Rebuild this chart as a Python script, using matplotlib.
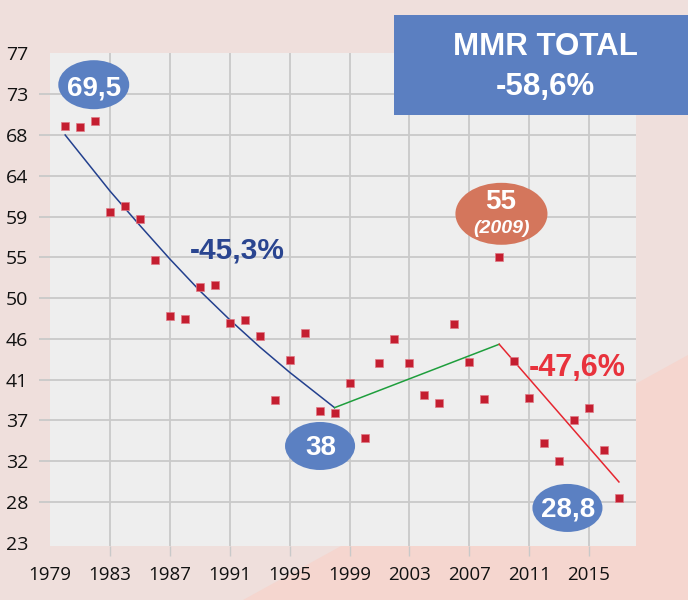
import matplotlib
matplotlib.use("Agg")
import matplotlib.pyplot as plt
from matplotlib.patches import Ellipse, Rectangle, Polygon

# ---- data ----
years = list(range(1980, 2018))
mmr = [69.0, 68.9, 69.5, 59.5, 60.2, 58.7, 54.2, 48.0, 47.7, 51.2,
       51.4, 47.3, 47.6, 45.8, 38.7, 43.2, 46.1, 37.5, 37.3, 40.6,
       34.5, 42.8, 45.5, 42.8, 39.3, 38.4, 47.1, 42.9, 38.9, 54.5,
       43.1, 39.0, 34.0, 32.0, 36.5, 37.9, 33.2, 27.9]

trend1_years = [1980, 1983, 1985, 1987, 1989, 1991, 1993, 1995, 1998]
trend1_vals = [68.0, 61.8, 58.0, 54.3, 50.8, 47.6, 44.6, 41.8, 37.9]
trend2_years = [1998, 2009]
trend2_vals = [37.9, 44.9]
trend3_years = [2009, 2017]
trend3_vals = [44.9, 29.7]

xtick_years = [1979, 1983, 1987, 1991, 1995, 1999, 2003, 2007, 2011, 2015]
ytick_vals = [23 + 4.5 * k for k in range(13)]
ytick_labels = [str(int(v + 0.5)) for v in ytick_vals]

title_line1 = "MMR TOTAL"
title_line2 = "-58,6%"

# ---- figure ----
W, H = 688, 600
fig = plt.figure(figsize=(W / 100, H / 100), dpi=100)
fig.patch.set_facecolor("#EFDFDC")

# lower-right background shade
fig.add_artist(Polygon([(243 / W, 0), (1, 1 - 355 / H), (1, 0)], closed=True,
                       transform=fig.transFigure, facecolor="#F5D6CF",
                       edgecolor="none", zorder=-5))

left_px, right_px, top_px, bot_px = 50.2, 636, 53, 546
ax = fig.add_axes([left_px / W, 1 - bot_px / H, (right_px - left_px) / W,
                   (bot_px - top_px) / H])
ax.set_facecolor("#EEEEEE")
ax.set_xlim(1979, 2018.14)
ax.set_ylim(22.63, 77.05)
for s in ax.spines.values():
    s.set_visible(False)

grid_c = "#C9C9C9"
ax.set_xticks(xtick_years)
ax.set_xticklabels([str(y) for y in xtick_years])
ax.set_yticks(ytick_vals)
ax.set_yticklabels(ytick_labels)
ax.grid(True, color=grid_c, linewidth=1.3)
ax.set_axisbelow(True)
ax.tick_params(axis="x", length=7.5, width=1.0, color=grid_c, pad=7,
               labelsize=13.5, labelcolor="#111111")
ax.tick_params(axis="y", length=8, width=1.3, color=grid_c, pad=8,
               labelsize=14, labelcolor="#111111")
for lab in ax.get_xticklabels() + ax.get_yticklabels():
    lab.set_fontfamily("Open Sans")

xt = ax.xaxis.get_major_ticks()
xt[0].tick1line.set_visible(False)
xt[0].gridline.set_visible(False)
yt = ax.yaxis.get_major_ticks()
for t in (yt[0], yt[-1]):
    t.tick1line.set_visible(False)
    t.gridline.set_visible(False)

# trend lines
ax.plot(trend1_years, trend1_vals, color="#23408E", lw=1.1, zorder=2)
ax.plot(trend2_years, trend2_vals, color="#1E9E3C", lw=1.1, zorder=2)
ax.plot(trend3_years, trend3_vals, color="#E62630", lw=1.1, zorder=2)

# points
ax.plot(years, mmr, ls="none", marker="s", ms=5.6, mfc="#C41E30",
        mec="#E07A86", mew=0.5, zorder=3)

bold = dict(family="Liberation Sans", weight="bold")
blue_e = "#5B80C2"

def ell(cx, cy, w, h, color):
    ax.add_patch(Ellipse((cx, cy), w, h, facecolor=color, edgecolor="none",
                         zorder=4, clip_on=False))

# ellipse labels
ell(1981.91, 73.55, 4.74, 5.41, blue_e)
ax.text(1981.94, 72.41, "69,5", color="white", fontsize=20, ha="center",
        va="baseline", zorder=5, **bold)
ell(1997.03, 33.67, 4.68, 5.30, blue_e)
ax.text(1997.06, 32.68, "38", color="white", fontsize=20, ha="center",
        va="baseline", zorder=5, **bold)
ell(2013.56, 26.83, 4.68, 5.30, blue_e)
ax.text(2013.62, 25.87, "28,8", color="white", fontsize=20, ha="center",
        va="baseline", zorder=5, **bold)
ell(2009.15, 59.30, 6.15, 6.84, "#D4765C")
ax.text(2009.11, 59.81, "55", color="white", fontsize=20, ha="center",
        va="baseline", zorder=5, **bold)
ax.text(2009.17, 57.22, "(2009)", color="white", fontsize=14, ha="center",
        va="baseline", zorder=5, family="Liberation Sans", weight="bold",
        style="italic")

# percent labels
ax.text(1991.51, 54.39, "-45,3%", color="#2A4590", fontsize=21.5,
        ha="center", va="baseline", zorder=5, **bold)
ax.text(2014.23, 41.40, "-47,6%", color="#E8323C", fontsize=22,
        ha="center", va="baseline", zorder=5, **bold)

# title box
fig.add_artist(Rectangle((394 / W, 1 - 114.5 / H), 1 - 394 / W, 99.5 / H,
                         transform=fig.transFigure, facecolor="#5B7FC1",
                         edgecolor="none", zorder=5))
fig.text(545 / W, 1 - 55 / H, title_line1, color="white", fontsize=22.5,
         ha="center", va="baseline", zorder=6, **bold)
fig.text(545 / W, 1 - 95 / H, title_line2, color="white", fontsize=22.5,
         ha="center", va="baseline", zorder=6, **bold)

fig.savefig("out.png", dpi=100, facecolor=fig.get_facecolor())
